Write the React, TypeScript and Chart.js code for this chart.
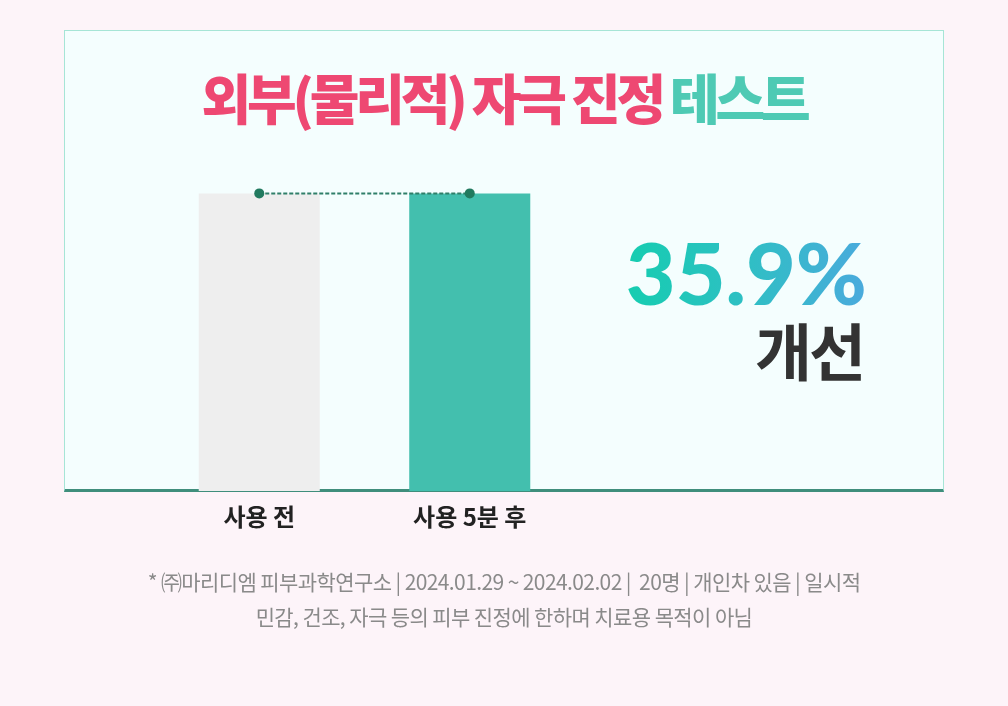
import React, { useEffect, useRef } from "react";
import { Chart, registerables } from "chart.js";

Chart.register(...registerables);

const categories = ["사용 전", "사용 5분 후"];
const barValues = [80, 80];
const lineValues = [80, 80];
const barColors = ["#eeeeee", "#43bfae"];

const titleMain = "외부(물리적) 자극 진정";
const titleAccent = "테스트";
const bigNumber = "35.9%";
const bigLabel = "개선";
const noteLine1 = "* ㈜마리디엠 피부과학연구소 | 2024.01.29 ~ 2024.02.02 |  20명 | 개인차 있음 | 일시적";
const noteLine2 = "민감, 건조, 자극 등의 피부 진정에 한하며 치료용 목적이 아님";

const KR = '"Noto Sans CJK KR", "Noto Sans", sans-serif';

export default function App() {
  const ref = useRef<HTMLCanvasElement | null>(null);

  useEffect(() => {
    document.body.style.margin = "0";
    const ctx = ref.current;
    if (!ctx) return;
    const chart = new Chart(ctx, {
      type: "bar",
      data: {
        labels: categories,
        datasets: [
          {
            type: "line",
            data: lineValues,
            borderColor: "#2f7f69",
            borderWidth: 2,
            borderDash: [4, 2],
            pointRadius: 5,
            pointBackgroundColor: "#217a5f",
            pointBorderWidth: 0,
            fill: false,
            order: 0,
          } as any,
          {
            type: "bar",
            data: barValues,
            backgroundColor: barColors,
            borderWidth: 0,
            categoryPercentage: 1,
            barPercentage: 0.575,
            order: 1,
          },
        ],
      },
      options: {
        animation: false,
        responsive: false,
        maintainAspectRatio: false,
        layout: { padding: { left: 154, right: 433, top: 119, bottom: 155 } },
        plugins: { legend: { display: false }, tooltip: { enabled: false } },
        scales: {
          x: {
            grid: { display: false, drawTicks: false },
            border: { display: false },
            ticks: {
              color: "#222222",
              padding: 11,
              font: { family: KR, size: 24, weight: "bold" },
            },
            afterFit: (s: any) => {
              s.height = 60;
            },
          },
          y: {
            display: false,
            min: 0,
            max: 100,
          },
        },
      },
    });
    return () => chart.destroy();
  }, []);

  return (
    <div
      style={{
        position: "relative",
        width: 1008,
        height: 706,
        background: "#fdf4f9",
        overflow: "hidden",
        fontFamily: KR,
      }}
    >
      <div
        style={{
          position: "absolute",
          left: 64,
          top: 30,
          width: 880,
          height: 462,
          boxSizing: "border-box",
          background: "#f4fefe",
          borderTop: "1px solid #a6e5d6",
          borderLeft: "1px solid #a6e5d6",
          borderRight: "1px solid #a6e5d6",
          borderBottom: "3px solid #3f8e7c",
        }}
      />
      <canvas
        ref={ref}
        width={1008}
        height={706}
        style={{ position: "absolute", left: 0, top: 0, width: 1008, height: 706 }}
      />
      <div
        style={{
          position: "absolute",
          left: 0,
          width: 1008,
          top: 67,
          textAlign: "center",
          fontSize: 54,
          lineHeight: "60px",
          fontWeight: 900,
          letterSpacing: -4.2,
          whiteSpace: "nowrap",
        }}
      >
        <span style={{ color: "#ee4872" }}>{titleMain}</span>{" "}
        <span style={{ color: "#4ecab4" }}>{titleAccent}</span>
      </div>
      <div
        style={{
          position: "absolute",
          right: 141,
          top: 227,
          fontFamily: "Lato, sans-serif",
          fontWeight: 900,
          fontSize: 86,
          lineHeight: "90px",
          letterSpacing: 0,
          whiteSpace: "nowrap",
          background: "linear-gradient(90deg, #15cdb0 0%, #2fbfc4 50%, #4aaadd 100%)",
          WebkitBackgroundClip: "text",
          backgroundClip: "text",
          color: "transparent",
        }}
      >
        {bigNumber}
      </div>
      <div
        style={{
          position: "absolute",
          right: 145,
          top: 314,
          fontWeight: 700,
          fontSize: 62,
          lineHeight: "70px",
          letterSpacing: -3,
          color: "#333333",
          whiteSpace: "nowrap",
        }}
      >
        {bigLabel}
      </div>
      <div
        style={{
          position: "absolute",
          left: 0,
          width: 1008,
          top: 564,
          textAlign: "center",
          fontSize: 21,
          lineHeight: "35px",
          letterSpacing: -0.6,
          color: "#8a8a8a",
          whiteSpace: "pre",
        }}
      >
        <div>{noteLine1}</div>
        <div>{noteLine2}</div>
      </div>
    </div>
  );
}
